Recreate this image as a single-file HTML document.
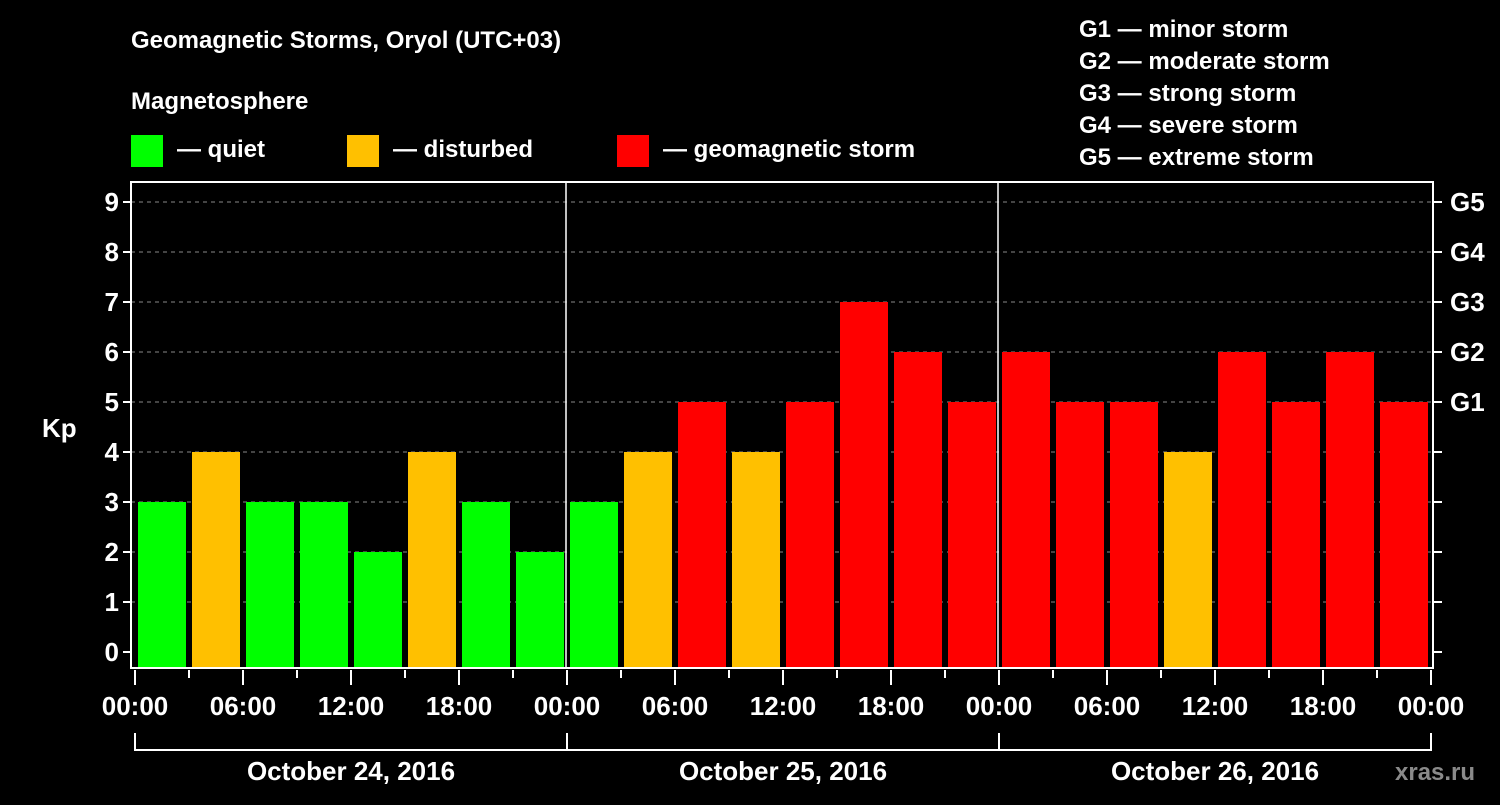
<!DOCTYPE html>
<html><head><meta charset="utf-8"><style>
body{margin:0;background:#000;}
svg text{font-family:"Liberation Sans",sans-serif;font-weight:bold;fill:#fff;}
</style></head><body>
<svg id="chart" width="1500" height="800" xmlns="http://www.w3.org/2000/svg">
<rect width="1500" height="800" fill="#000"/>
<text x="131" y="48" font-size="24">Geomagnetic Storms, Oryol (UTC+03)</text>
<text x="131" y="109" font-size="24">Magnetosphere</text>
<g><rect x="131" y="135" width="32" height="32" fill="#00ff00"/><text x="177" y="157" font-size="24">— quiet</text></g>
<g><rect x="347" y="135" width="32" height="32" fill="#ffc000"/><text x="393" y="157" font-size="24">— disturbed</text></g>
<g><rect x="617" y="135" width="32" height="32" fill="#ff0000"/><text x="663" y="157" font-size="24">— geomagnetic storm</text></g>
<g font-size="24">
<text x="1079" y="37">G1 — minor storm</text>
<text x="1079" y="69">G2 — moderate storm</text>
<text x="1079" y="101">G3 — strong storm</text>
<text x="1079" y="133">G4 — severe storm</text>
<text x="1079" y="165">G5 — extreme storm</text>
</g>
<text x="42" y="437" font-size="26">Kp</text>
<text x="1395" y="780" font-size="24" fill="#888" style="fill:#8a8a8a">xras.ru</text>
<g id="grid"></g><g id="bars"></g><g id="axes"></g>
</svg>
<script>
const kpValues=[3,4,3,3,2,4,3,2, 3,4,5,4,5,7,6,5, 6,5,5,4,6,5,6,5];
const dayLabels=["October 24, 2016","October 25, 2016","October 26, 2016"];
const yTicks=[0,1,2,3,4,5,6,7,8,9];
const gLabels=["G1","G2","G3","G4","G5"];
const gLevels=[5,6,7,8,9];
const hourLabels=["00:00","06:00","12:00","18:00"];
const NS="http://www.w3.org/2000/svg";
const X0=135,PX_H=18,Y0=652,PX_K=50,L=131,R=1433,T=182,B=668;
const x=h=>X0+h*PX_H, y=k=>Y0-k*PX_K;
function mk(tag,attrs,parent){const e=document.createElementNS(NS,tag);for(const k in attrs)e.setAttribute(k,attrs[k]);parent.appendChild(e);return e;}
const grid=document.getElementById('grid'),bars=document.getElementById('bars'),axes=document.getElementById('axes');
yTicks.forEach(k=>{
  if(k>0){const gl=mk('line',{x1:L,x2:R,y1:y(k),y2:y(k),stroke:'#888','stroke-dasharray':'4,4','stroke-width':1},grid);
  
  }
  const t=mk('line',{x1:L-8,x2:L,y1:y(k),y2:y(k),stroke:'#fff','stroke-width':2},axes);
  
  
  const t2=mk('line',{x1:R,x2:R+9,y1:y(k),y2:y(k),stroke:'#fff','stroke-width':2},axes);
  
  
  const lb=mk('text',{x:L-12,y:y(k)+9,'font-size':26,'text-anchor':'end'},axes);lb.textContent=k;
  
  
});
gLabels.forEach((g,i)=>{const lb=mk('text',{x:1450,y:y(gLevels[i])+9,'font-size':26},axes);lb.textContent=g;
  
  });
kpValues.forEach((v,i)=>{
  const c=v>=5?'#ff0000':(v>=4?'#ffc000':'#00ff00');
  const r=mk('rect',{x:x(i*3)+3,width:48,y:y(v),height:B-1-y(v),fill:c},bars);
  
  
});
mk('rect',{x:L,y:T,width:R-L,height:B-T,fill:'none',stroke:'#fff','stroke-width':2},axes);
for(let d=1;d<dayLabels.length;d++){const dl=mk('line',{x1:x(d*24)-1,x2:x(d*24)-1,y1:T,y2:B,stroke:'#fff','stroke-width':1.5},axes);
  
  }
for(let h=0;h<=72;h+=3){const major=h%6===0;
  const tk=mk('line',{x1:x(h),x2:x(h),y1:B+2,y2:major?B+17:B+10,stroke:'#fff','stroke-width':2},axes);
  
  
  if(major){const lb=mk('text',{x:x(h),y:715,'font-size':26,'text-anchor':'middle'},axes);lb.textContent=hourLabels[(h/6)%4];
  
  }
}
dayLabels.forEach((d,i)=>{
  const p=mk('path',{d:`M${x(i*24)},733V750H${x(i*24+24)}V733`,fill:'none',stroke:'#fff','stroke-width':2},axes);
  
  
  const lb=mk('text',{x:x(i*24+12),y:780,'font-size':26,'text-anchor':'middle'},axes);lb.textContent=d;
  
  
});
</script>
</body></html>
